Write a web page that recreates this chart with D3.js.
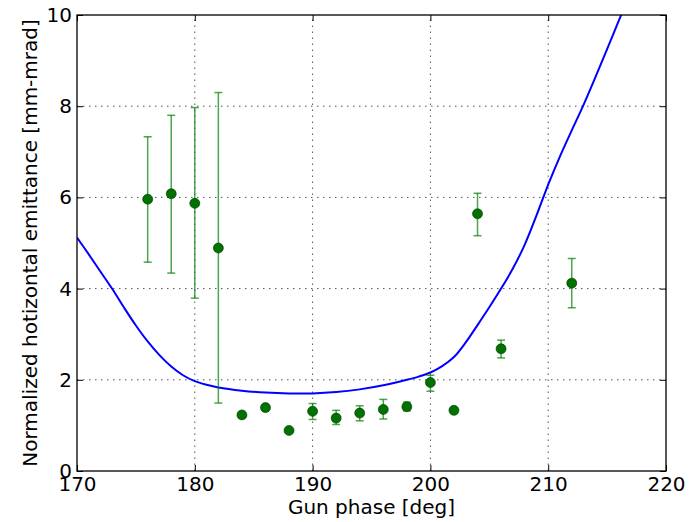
<!DOCTYPE html>
<html>
<head>
<meta charset="utf-8">
<script src="https://cdn.jsdelivr.net/npm/d3@7"></script>
<style>
  body { margin: 0; background: #fff; }
  svg { font-family: "DejaVu Sans", sans-serif; }
</style>
</head>
<body>
<svg id="chart" width="694" height="522"></svg>
<script>
// measured points
const phase = [176, 178, 180, 182, 184, 186, 188, 190, 192, 194, 196, 198, 200, 202, 204, 206, 212];
const emit  = [5.96, 6.08, 5.87, 4.89, 1.23, 1.39, 0.89, 1.31, 1.16, 1.27, 1.35, 1.41, 1.94, 1.33, 5.64, 2.68, 4.12];
const errLo = [4.58, 4.34, 3.79, 1.49, 1.21, 1.34, 0.88, 1.13, 1.02, 1.10, 1.14, 1.32, 1.75, 1.31, 5.16, 2.48, 3.58];
const errHi = [7.33, 7.80, 7.97, 8.30, 1.25, 1.44, 0.90, 1.48, 1.33, 1.43, 1.57, 1.51, 2.10, 1.35, 6.09, 2.87, 4.66];

// simulation curve
const simPhase = [170, 171, 172, 173, 174, 175, 176, 177, 178, 179, 180, 181, 182, 184, 186, 188, 190, 192, 194, 196, 198, 199, 200, 201, 202, 203, 204, 205, 206, 207, 208, 209, 210, 211, 212, 213, 214, 215, 216, 217];
const simEmit  = [5.12, 4.75, 4.37, 3.99, 3.58, 3.19, 2.84, 2.54, 2.29, 2.10, 1.97, 1.89, 1.83, 1.76, 1.72, 1.70, 1.70, 1.73, 1.79, 1.88, 2.00, 2.07, 2.16, 2.30, 2.50, 2.82, 3.20, 3.59, 4.00, 4.44, 4.96, 5.60, 6.28, 6.90, 7.47, 8.03, 8.63, 9.25, 9.88, 10.5];

const xTicks = [170, 180, 190, 200, 210, 220];
const yTicks = [0, 2, 4, 6, 8, 10];

const margin = {left: 77, top: 15, right: 28, bottom: 51};
const W = 694, H = 522;
const svg = d3.select('#chart');

const x = d3.scaleLinear().domain([170, 220]).range([margin.left, W - margin.right]);
const y = d3.scaleLinear().domain([0, 10]).range([H - margin.bottom, margin.top]);

svg.append('clipPath').attr('id', 'plotclip')
  .append('rect')
  .attr('x', x(170)).attr('y', y(10))
  .attr('width', x(220) - x(170)).attr('height', y(0) - y(10));

// grid
const grid = svg.append('g').attr('stroke', '#555').attr('stroke-width', 1)
  .attr('stroke-dasharray', '1.5,4.5');
xTicks.slice(1, -1).forEach(t => {
  grid.append('line').attr('x1', x(t)).attr('x2', x(t)).attr('y1', y(0)).attr('y2', y(10));
});
yTicks.slice(1, -1).forEach(t => {
  grid.append('line').attr('y1', y(t)).attr('y2', y(t)).attr('x1', x(170)).attr('x2', x(220));
});

// curve
const line = d3.line().x(d => x(d[0])).y(d => y(d[1])).curve(d3.curveCatmullRom.alpha(0.5));
svg.append('path')
  .attr('clip-path', 'url(#plotclip)')
  .attr('d', line(simPhase.map((p, i) => [p, simEmit[i]])))
  .attr('fill', 'none').attr('stroke', '#0000ff').attr('stroke-width', 2);

// error bars
const eb = svg.append('g').attr('stroke', '#008000').attr('stroke-opacity', 0.7).attr('stroke-width', 1.5);
phase.forEach((p, i) => {
  if (errHi[i] - errLo[i] < 0.1) return;
  eb.append('line').attr('x1', x(p)).attr('x2', x(p)).attr('y1', y(errLo[i])).attr('y2', y(errHi[i]));
  [errLo[i], errHi[i]].forEach(v => {
    eb.append('line').attr('x1', x(p) - 4).attr('x2', x(p) + 4).attr('y1', y(v)).attr('y2', y(v));
  });
});

// markers
svg.append('g').selectAll('circle')
  .data(phase.map((p, i) => [p, emit[i]]))
  .join('circle')
  .attr('cx', d => x(d[0])).attr('cy', d => y(d[1])).attr('r', 5)
  .attr('fill', '#007200').attr('stroke', '#003300').attr('stroke-width', 0.6);

// frame
svg.append('rect')
  .attr('x', x(170)).attr('y', y(10))
  .attr('width', x(220) - x(170)).attr('height', y(0) - y(10))
  .attr('fill', 'none').attr('stroke', '#000').attr('stroke-width', 1.3);

// axes (ticks pointing inward)
const fs = 20;
const xb = svg.append('g').attr('transform', `translate(0,${y(0)})`)
  .call(d3.axisBottom(x).tickValues(xTicks).tickSize(-6).tickPadding(6).tickFormat(d3.format('d')));
const xt = svg.append('g').attr('transform', `translate(0,${y(10)})`)
  .call(d3.axisTop(x).tickValues(xTicks).tickSize(-6).tickFormat(''));
const yl = svg.append('g').attr('transform', `translate(${x(170)},0)`)
  .call(d3.axisLeft(y).tickValues(yTicks).tickSize(-6).tickPadding(5).tickFormat(d3.format('d')));
const yr = svg.append('g').attr('transform', `translate(${x(220)},0)`)
  .call(d3.axisRight(y).tickValues(yTicks).tickSize(-6).tickFormat(''));
[xb, xt, yl, yr].forEach(g => {
  g.select('.domain').remove();
  g.selectAll('.tick line').attr('stroke', '#000');
  g.selectAll('text').attr('font-size', fs).attr('font-family', '"DejaVu Sans", sans-serif').attr('fill', '#000');
});

svg.append('text')
  .attr('x', (x(170) + x(220)) / 2).attr('y', 514)
  .attr('text-anchor', 'middle').attr('font-size', fs)
  .text('Gun phase [deg]');

svg.append('text')
  .attr('transform', `translate(37,${(y(0) + y(10)) / 2}) rotate(-90)`)
  .attr('text-anchor', 'middle').attr('font-size', fs)
  .text('Normalized hotizontal emittance [mm-mrad]');
</script>
</body>
</html>
